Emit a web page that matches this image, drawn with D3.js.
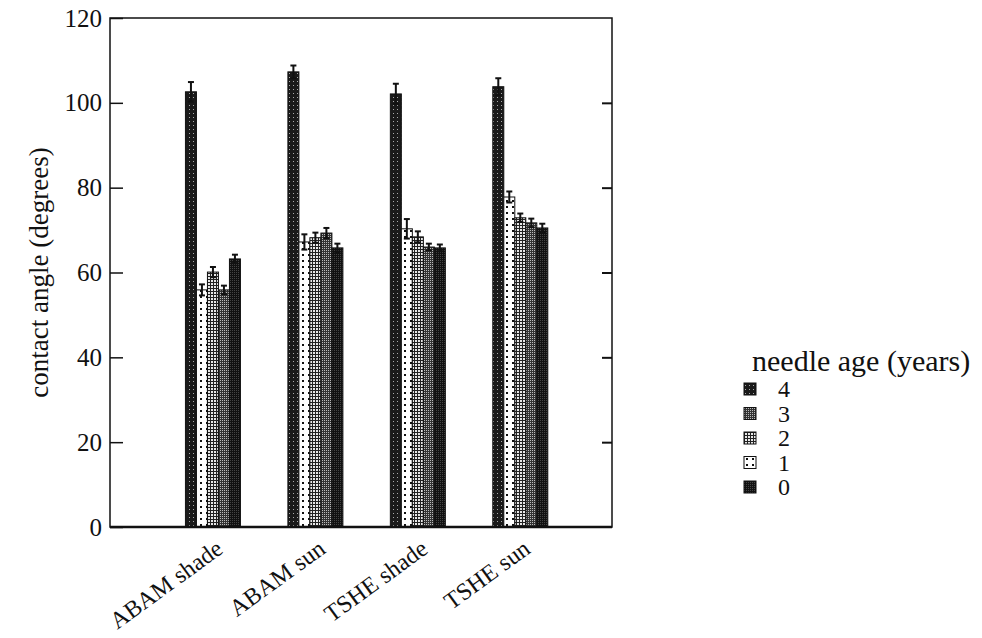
<!DOCTYPE html>
<html>
<head>
<meta charset="utf-8">
<script src="https://cdn.jsdelivr.net/npm/d3@7.9.0/dist/d3.min.js"></script>
<style>
  body { margin: 0; background: #fff; }
  svg text { font-family: "Liberation Serif", "DejaVu Serif", serif !important; fill: #111; }
</style>
</head>
<body>
<svg id="chart" width="982" height="638"></svg>
<script>
// groups along the x axis
const groups = ['ABAM shade', 'ABAM sun', 'TSHE shade', 'TSHE sun'];
// needle ages, in the order the bars stand inside each group
const barAges = [4, 1, 2, 3, 0];
// legend order
const legendAges = [4, 3, 2, 1, 0];

// contact angle (degrees) per needle age, one value per group
const age4 = [102.6, 107.3, 102.1, 103.8];
const age1 = [55.9, 67.2, 70.3, 77.8];
const age2 = [60.1, 68.2, 68.4, 72.9];
const age3 = [55.9, 69.3, 66.0, 71.7];
const age0 = [63.2, 65.8, 65.8, 70.5];
// standard errors
const err4 = [2.3, 1.5, 2.4, 2.0];
const err1 = [1.3, 1.8, 2.3, 1.3];
const err2 = [1.2, 1.2, 1.3, 1.0];
const err3 = [1.0, 1.2, 0.8, 1.0];
const err0 = [1.0, 1.0, 0.8, 1.0];

const yTicks = [0, 20, 40, 60, 80, 100, 120];

const values = { 4: age4, 3: age3, 2: age2, 1: age1, 0: age0 };
const errors = { 4: err4, 3: err3, 2: err2, 1: err1, 0: err0 };

const svg = d3.select('#chart');
const plotL = 110, plotR = 612, plotT = 18, plotB = 527;

const x = d3.scaleLinear().domain([0, 4.9]).range([plotL, plotR]);
const y = d3.scaleLinear().domain([0, 120]).range([plotB, plotT]);
const inner = d3.scaleBand().domain(barAges).range([-27, 28]).padding(0);

// fill patterns imitating the print hatching
const defs = svg.append('defs');
function pattern(id, size, bg, draw) {
  const p = defs.append('pattern').attr('id', id)
    .attr('patternUnits', 'userSpaceOnUse').attr('width', size).attr('height', size);
  p.append('rect').attr('width', size).attr('height', size).attr('fill', bg);
  draw(p);
}
pattern('p4', 4, '#1a1a1a', p => {
  p.append('rect').attr('x', 1).attr('y', 1).attr('width', 1).attr('height', 1).attr('fill', '#aaa');
});
pattern('p3', 2, '#333', p => {
  p.append('rect').attr('x', 0).attr('y', 0).attr('width', 1).attr('height', 1).attr('fill', '#bbb');
});
pattern('p2', 3, '#e8e8e8', p => {
  p.append('rect').attr('x', 0).attr('y', 0).attr('width', 3).attr('height', 1).attr('fill', '#222');
  p.append('rect').attr('x', 0).attr('y', 0).attr('width', 1).attr('height', 3).attr('fill', '#222');
});
pattern('p1', 6, '#ffffff', p => {
  p.append('rect').attr('x', 2).attr('y', 2).attr('width', 2).attr('height', 2).attr('fill', '#111');
});
pattern('p0', 2, '#111', p => {
  p.append('rect').attr('x', 0).attr('y', 0).attr('width', 1).attr('height', 1).attr('fill', '#444');
});

// bars
groups.forEach((g, gi) => {
  const cx = x(gi + 1);
  barAges.forEach(age => {
    const v = values[age][gi], e = errors[age][gi];
    const bx = cx + inner(age), bw = inner.bandwidth();
    svg.append('rect')
      .attr('x', bx).attr('y', y(v))
      .attr('width', bw).attr('height', y(0) - y(v))
      .attr('fill', `url(#p${age})`)
      .attr('stroke', '#111').attr('stroke-width', 1);
    const mx = bx + bw / 2;
    svg.append('line').attr('x1', mx).attr('x2', mx)
      .attr('y1', y(v + e)).attr('y2', y(v - e))
      .attr('stroke', '#111').attr('stroke-width', 2);
    [v + e, v - e].forEach(t => {
      svg.append('line').attr('x1', mx - 3).attr('x2', mx + 3)
        .attr('y1', y(t)).attr('y2', y(t))
        .attr('stroke', '#111').attr('stroke-width', 2);
    });
  });
});

// frame
svg.append('rect').attr('x', plotL).attr('y', plotT)
  .attr('width', plotR - plotL).attr('height', plotB - plotT)
  .attr('fill', 'none').attr('stroke', '#111').attr('stroke-width', 1.5);
svg.append('line').attr('x1', plotL).attr('x2', plotR)
  .attr('y1', plotB).attr('y2', plotB).attr('stroke', '#111').attr('stroke-width', 2.5);

// y axis with inward ticks on both sides
const yAxis = svg.append('g').attr('transform', `translate(${plotL},0)`)
  .call(d3.axisLeft(y).tickValues(yTicks).tickSize(-13).tickPadding(8));
yAxis.select('.domain').remove();
yAxis.selectAll('.tick line').attr('stroke', '#111').attr('stroke-width', 1.5);
yAxis.selectAll('.tick text').attr('font-size', 25).attr('fill', '#111');

const yRight = svg.append('g').attr('transform', `translate(${plotR},0)`)
  .call(d3.axisRight(y).tickValues(yTicks.slice(1, -1)).tickSize(-10).tickFormat(''));
yRight.select('.domain').remove();
yRight.selectAll('.tick line').attr('stroke', '#111').attr('stroke-width', 2);

svg.append('text')
  .attr('transform', `translate(48,${(plotT + plotB) / 2}) rotate(-90)`)
  .attr('text-anchor', 'middle').attr('font-size', 27)
  .text('contact angle (degrees)');

// rotated group labels
groups.forEach((g, gi) => {
  svg.append('text')
    .attr('transform', `translate(${x(gi + 1) + 12},552) rotate(-36)`)
    .attr('text-anchor', 'end').attr('font-size', 24)
    .text(g);
});

// legend
svg.append('text').attr('x', 752).attr('y', 371).attr('font-size', 30)
  .text('needle age (years)');
const ly = d3.scalePoint().domain(legendAges).range([389, 487]);
legendAges.forEach(age => {
  svg.append('rect').attr('x', 744).attr('y', ly(age) - 6)
    .attr('width', 12).attr('height', 12)
    .attr('fill', `url(#p${age})`).attr('stroke', '#111').attr('stroke-width', 1);
  svg.append('text').attr('x', 778).attr('y', ly(age) + 8)
    .attr('font-size', 24).text(age);
});
</script>
</body>
</html>
